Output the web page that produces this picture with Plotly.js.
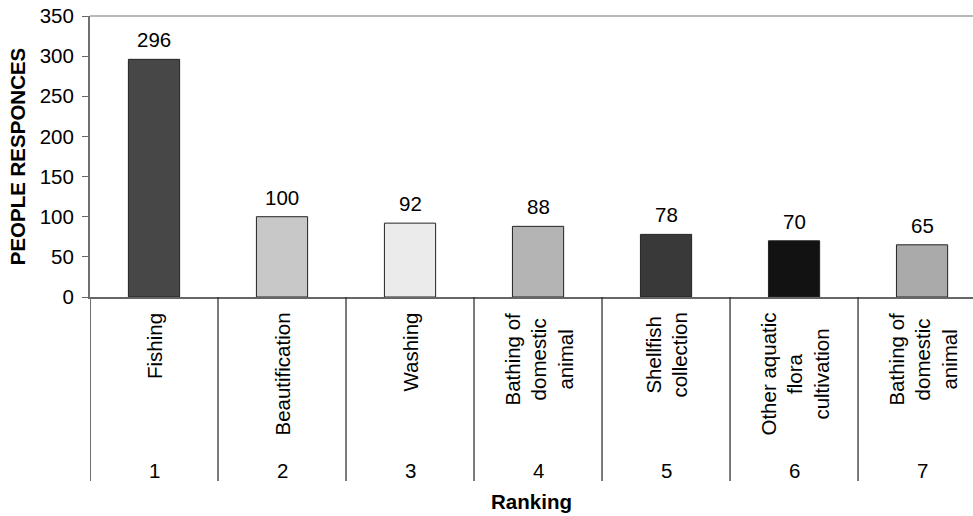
<!DOCTYPE html>
<html>
<head>
<meta charset="utf-8">
<script src="https://cdn.plot.ly/plotly-3.0.1.min.js"></script>
<style>html,body{margin:0;padding:0;background:#fff;}#chart{width:973px;height:516px;}</style>
</head>
<body>
<div id="chart"></div>
<script>
var ranks = ['1', '2', '3', '4', '5', '6', '7'];
var activities = ['Fishing', 'Beautification', 'Washing', 'Bathing of<br>domestic<br>animal', 'Shellfish<br>collection', 'Other aquatic<br>flora<br>cultivation', 'Bathing of<br>domestic<br>animal'];
var responses = [296, 100, 92, 88, 78, 70, 65];
var barColors = ['#474747', '#c8c8c8', '#ebebeb', '#b4b4b4', '#393939', '#121212', '#aaaaaa'];
var yTicks = [0, 50, 100, 150, 200, 250, 300, 350];

var FONT = 'Liberation Sans, Arial, sans-serif';
var FS = 20.5;

var trace = {
  type: 'bar',
  x: ranks,
  y: responses,
  width: 0.4,
  marker: {color: barColors, line: {color: '#222222', width: 1}},
  hoverinfo: 'x+y',
  showlegend: false
};

var annotations = [];
var shapes = [];
for (var i = 0; i < ranks.length; i++) {
  annotations.push({
    xref: 'x', yref: 'y', x: i, y: responses[i],
    text: String(responses[i]), showarrow: false,
    xanchor: 'center', yanchor: 'bottom', yshift: 6,
    font: {family: FONT, size: FS, color: '#000'}
  });
  annotations.push({
    xref: 'x', yref: 'y', x: i, y: 0,
    text: activities[i], showarrow: false, textangle: -90,
    xanchor: 'center', yanchor: 'top', yshift: -14, align: 'center',
    font: {family: FONT, size: FS, color: '#000'}
  });
  annotations.push({
    xref: 'x', yref: 'y', x: i, y: 0,
    text: ranks[i], showarrow: false,
    xanchor: 'center', yanchor: 'middle', yshift: -173,
    font: {family: FONT, size: FS, color: '#000'}
  });
}
// separators of the category table
for (var k = 0; k <= ranks.length - 1; k++) {
  shapes.push({
    type: 'line', xref: 'x', yref: 'paper',
    x0: k - 0.5, x1: k - 0.5, y0: 0, y1: -0.655,
    line: {color: k === 0 ? '#707070' : '#333333', width: k === 0 ? 2 : 1.3}
  });
}
// top border
shapes.push({type: 'line', xref: 'paper', yref: 'paper', x0: 0, x1: 1, y0: 1, y1: 1,
  line: {color: '#a0a0a0', width: 1.3}});

var layout = {
  width: 973, height: 516,
  margin: {l: 90, r: 0, t: 16, b: 219, pad: 0},
  paper_bgcolor: '#ffffff', plot_bgcolor: '#ffffff',
  font: {family: FONT, size: FS, color: '#000'},
  xaxis: {
    type: 'category',
    range: [-0.5, 6.398],
    showticklabels: false,
    ticks: '',
    showgrid: false, zeroline: false,
    showline: true, linecolor: '#666666', linewidth: 2,
    fixedrange: true,
    automargin: false,
    title: {text: 'Ranking', font: {family: FONT, size: FS, color: '#000', weight: 'bold'}, standoff: 197}
  },
  yaxis: {
    range: [0, 350],
    tickvals: yTicks,
    ticktext: yTicks.map(String),
    ticks: 'outside', ticklen: 6, tickwidth: 1.3, tickcolor: '#666666',
    showgrid: false, zeroline: false,
    showline: true, linecolor: '#707070', linewidth: 2,
    tickfont: {family: FONT, size: FS, color: '#000'},
    ticklabelstandoff: 4,
    fixedrange: true,
    automargin: false,
    title: {text: 'PEOPLE RESPONCES', font: {family: FONT, size: FS, color: '#000', weight: 'bold'}, standoff: 9}
  },
  annotations: annotations,
  shapes: shapes,
  bargap: 0.6
};

Plotly.newPlot('chart', [trace], layout, {displayModeBar: false, staticPlot: false});
</script>
</body>
</html>
